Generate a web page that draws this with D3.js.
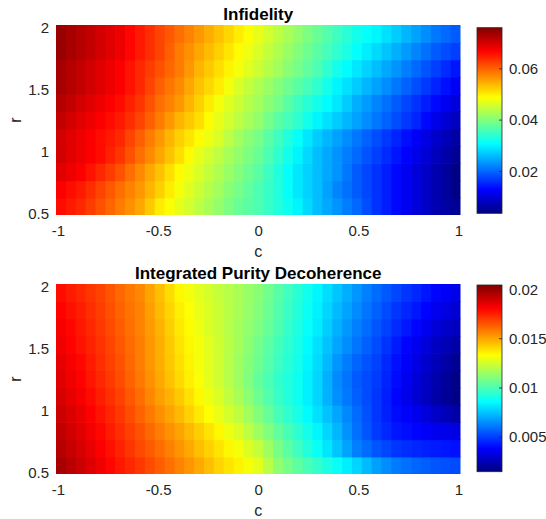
<!DOCTYPE html>
<html>
<head>
<meta charset="utf-8">
<script src="https://cdn.jsdelivr.net/npm/d3@7"></script>
<style>
  html, body { margin: 0; padding: 0; background: #ffffff; }
  svg { display: block; font-family: "Liberation Sans", Arial, Helvetica, sans-serif; }
</style>
</head>
<body>
<svg id="chart" width="546" height="519"></svg>
<script>
// Grid coordinates
const cValues = [-1, -0.95, -0.9, -0.85, -0.8, -0.75, -0.7, -0.65, -0.6, -0.55, -0.5, -0.45, -0.4, -0.35, -0.3, -0.25, -0.2, -0.15, -0.1, -0.05, 0,
                 0.05, 0.1, 0.15, 0.2, 0.25, 0.3, 0.35, 0.4, 0.45, 0.5, 0.55, 0.6, 0.65, 0.7, 0.75, 0.8, 0.85, 0.9, 0.95, 1];
const rValues = [0.5, 0.65, 0.8, 0.95, 1.1, 1.25, 1.4, 1.55, 1.7, 1.85, 2.0];

// Infidelity, one row per r value (r ascending), one entry per c value
const infidelity = [
  [66e-3,65e-3,64e-3,62.5e-3,61e-3,59.5e-3,58e-3,56.5e-3,55e-3,52.5e-3,50e-3,48.5e-3,47e-3,45.5e-3,44e-3,42.5e-3,41e-3,39.5e-3,38e-3,37e-3,36e-3,34.5e-3,33e-3,31.5e-3,30e-3,28e-3,26e-3,24.5e-3,23e-3,21.5e-3,20e-3,18e-3,16e-3,14.5e-3,13e-3,11.5e-3,10e-3,8.5e-3,7e-3,6e-3,5e-3],
  [67e-3,66e-3,65e-3,63.5e-3,62e-3,60.5e-3,59e-3,57.5e-3,56e-3,54e-3,52e-3,50e-3,48e-3,46.5e-3,45e-3,43.5e-3,42e-3,40.5e-3,39e-3,37.5e-3,36e-3,34.5e-3,33e-3,31e-3,29e-3,27.5e-3,26e-3,24e-3,22e-3,20.5e-3,19e-3,17.5e-3,16e-3,14.5e-3,13e-3,11.5e-3,10e-3,8.5e-3,7e-3,5.5e-3,4e-3],
  [69e-3,68e-3,67e-3,65.5e-3,64e-3,62.5e-3,61e-3,59e-3,57e-3,55e-3,53e-3,51e-3,49e-3,47.5e-3,46e-3,44.5e-3,43e-3,41.5e-3,40e-3,38.5e-3,37e-3,35e-3,33e-3,31e-3,29e-3,27.5e-3,26e-3,24.5e-3,23e-3,21e-3,19e-3,17.5e-3,16e-3,14.5e-3,13e-3,11.5e-3,10e-3,8.5e-3,7e-3,5.5e-3,4e-3],
  [70e-3,69e-3,68e-3,67e-3,66e-3,64.5e-3,63e-3,61e-3,59e-3,57e-3,55e-3,53e-3,51e-3,49e-3,47e-3,45.5e-3,44e-3,42.5e-3,41e-3,39.5e-3,38e-3,36e-3,34e-3,32e-3,30e-3,28e-3,26e-3,24.5e-3,23e-3,21.5e-3,20e-3,18.5e-3,17e-3,15.5e-3,14e-3,12.5e-3,11e-3,9.5e-3,8e-3,6.5e-3,5e-3],
  [70e-3,69e-3,68e-3,67e-3,66e-3,65e-3,64e-3,62e-3,60e-3,58e-3,56e-3,54e-3,52e-3,50.5e-3,49e-3,47.5e-3,46e-3,44e-3,42e-3,40.5e-3,39e-3,37e-3,35e-3,33e-3,31e-3,29e-3,27e-3,25.5e-3,24e-3,22.5e-3,21e-3,19.5e-3,18e-3,16.5e-3,15e-3,13.5e-3,12e-3,10.5e-3,9e-3,7.5e-3,6e-3],
  [71e-3,70e-3,69e-3,68e-3,67e-3,66e-3,65e-3,63.5e-3,62e-3,60e-3,58e-3,56e-3,54e-3,52.5e-3,51e-3,49e-3,47e-3,45.5e-3,44e-3,42.5e-3,41e-3,39e-3,37e-3,35.5e-3,34e-3,32e-3,30e-3,28.5e-3,27e-3,25.5e-3,24e-3,22.5e-3,21e-3,19.5e-3,18e-3,16.5e-3,15e-3,13e-3,11e-3,9.5e-3,8e-3],
  [72e-3,71e-3,70e-3,69e-3,68e-3,67e-3,66e-3,64.5e-3,63e-3,61e-3,59e-3,57.5e-3,56e-3,54e-3,52e-3,50e-3,48e-3,46.5e-3,45e-3,43.5e-3,42e-3,40.5e-3,39e-3,37e-3,35e-3,33.5e-3,32e-3,30.5e-3,29e-3,27e-3,25e-3,23.5e-3,22e-3,20.5e-3,19e-3,17.5e-3,16e-3,14.5e-3,13e-3,11.5e-3,10e-3],
  [73e-3,72e-3,71e-3,70e-3,69e-3,68e-3,67e-3,65.5e-3,64e-3,62e-3,60e-3,58.5e-3,57e-3,55e-3,53e-3,51.5e-3,50e-3,48e-3,46e-3,44.5e-3,43e-3,41.5e-3,40e-3,38.5e-3,37e-3,35.5e-3,34e-3,32e-3,30e-3,28.5e-3,27e-3,25.5e-3,24e-3,22.5e-3,21e-3,19.5e-3,18e-3,16.5e-3,15e-3,13.5e-3,12e-3],
  [73e-3,72e-3,71e-3,70e-3,69e-3,68e-3,67e-3,65.5e-3,64e-3,62.5e-3,61e-3,59.5e-3,58e-3,56e-3,54e-3,52.5e-3,51e-3,49.5e-3,48e-3,46.5e-3,45e-3,43.5e-3,42e-3,40.5e-3,39e-3,37.5e-3,36e-3,34e-3,32e-3,30.5e-3,29e-3,27.5e-3,26e-3,24.5e-3,23e-3,21.5e-3,20e-3,18.5e-3,17e-3,15.5e-3,14e-3],
  [74e-3,73e-3,72e-3,71e-3,70e-3,69e-3,68e-3,66.5e-3,65e-3,63.5e-3,62e-3,60e-3,58e-3,56.5e-3,55e-3,53.5e-3,52e-3,50.5e-3,49e-3,47.5e-3,46e-3,44.5e-3,43e-3,41.5e-3,40e-3,38.5e-3,37e-3,35.5e-3,34e-3,32.5e-3,31e-3,29.5e-3,28e-3,26.5e-3,25e-3,23.5e-3,22e-3,20.5e-3,19e-3,18e-3,17e-3],
  [74e-3,73e-3,72e-3,71e-3,70e-3,69e-3,68e-3,66.5e-3,65e-3,63.5e-3,62e-3,60.5e-3,59e-3,57.5e-3,56e-3,54.5e-3,53e-3,51.5e-3,50e-3,48.5e-3,47e-3,45.5e-3,44e-3,42.5e-3,41e-3,39.5e-3,38e-3,36.5e-3,35e-3,33.5e-3,32e-3,31e-3,30e-3,28.5e-3,27e-3,25.5e-3,24e-3,22.5e-3,21e-3,20e-3,19e-3]
];

// Integrated purity decoherence, same layout
const purityDecoherence = [
  [197e-4,193.5e-4,190e-4,186.5e-4,183e-4,179.5e-4,176e-4,173e-4,170e-4,166.5e-4,163e-4,159.5e-4,156e-4,152.5e-4,149e-4,145e-4,141e-4,138e-4,135e-4,131.5e-4,128e-4,120e-4,112e-4,107.5e-4,103e-4,99e-4,95e-4,91e-4,87e-4,82.5e-4,78e-4,73e-4,68e-4,64.5e-4,61e-4,59e-4,57e-4,55.5e-4,54e-4,53e-4,52e-4],
  [194e-4,191e-4,188e-4,184.5e-4,181e-4,177.5e-4,174e-4,170.5e-4,167e-4,163.5e-4,160e-4,156.5e-4,153e-4,149e-4,145e-4,141.5e-4,138e-4,134.5e-4,131e-4,126.5e-4,122e-4,115e-4,108e-4,102.5e-4,97e-4,92e-4,87e-4,81e-4,75e-4,68.5e-4,62e-4,58e-4,54e-4,51e-4,48e-4,46.5e-4,45e-4,44e-4,43e-4,42e-4,41e-4],
  [192e-4,189e-4,186e-4,182.5e-4,179e-4,175.5e-4,172e-4,168.5e-4,165e-4,161e-4,157e-4,153.5e-4,150e-4,146e-4,142e-4,138e-4,134e-4,130e-4,126e-4,120.5e-4,115e-4,109.5e-4,104e-4,99e-4,94e-4,89e-4,84e-4,78e-4,72e-4,65.5e-4,59e-4,54e-4,49e-4,45.5e-4,42e-4,40.5e-4,39e-4,37e-4,35e-4,34e-4,33e-4],
  [190e-4,187e-4,184e-4,180.5e-4,177e-4,173.5e-4,170e-4,166e-4,162e-4,158e-4,154e-4,150e-4,146e-4,141.5e-4,137e-4,133e-4,129e-4,125e-4,121e-4,115.5e-4,110e-4,104.5e-4,99e-4,94.5e-4,90e-4,85e-4,80e-4,74.5e-4,69e-4,63.5e-4,58e-4,53e-4,48e-4,44e-4,40e-4,37.5e-4,35e-4,31.5e-4,28e-4,25e-4,22e-4],
  [188e-4,185e-4,182e-4,178.5e-4,175e-4,171.5e-4,168e-4,164e-4,160e-4,155.5e-4,151e-4,147e-4,143e-4,138.5e-4,134e-4,130e-4,126e-4,121.5e-4,117e-4,111.5e-4,106e-4,101e-4,96e-4,92e-4,88e-4,83e-4,78e-4,71.5e-4,65e-4,60.5e-4,56e-4,52e-4,48e-4,43.5e-4,39e-4,34.5e-4,30e-4,26e-4,22e-4,19e-4,16e-4],
  [186e-4,183e-4,180e-4,176.5e-4,173e-4,169.5e-4,166e-4,162e-4,158e-4,153.5e-4,149e-4,144.5e-4,140e-4,136e-4,132e-4,128e-4,124e-4,119.5e-4,115e-4,109.5e-4,104e-4,99.5e-4,95e-4,91.5e-4,88e-4,83e-4,78e-4,71e-4,64e-4,59.5e-4,55e-4,52e-4,49e-4,44.5e-4,40e-4,35.5e-4,31e-4,27e-4,23e-4,19.5e-4,16e-4],
  [185e-4,182e-4,179e-4,175.5e-4,172e-4,168.5e-4,165e-4,161e-4,157e-4,152.5e-4,148e-4,143.5e-4,139e-4,135e-4,131e-4,127.5e-4,124e-4,119.5e-4,115e-4,110.5e-4,106e-4,101.5e-4,97e-4,93e-4,89e-4,84e-4,79e-4,72.5e-4,66e-4,61.5e-4,57e-4,53.5e-4,50e-4,45.5e-4,41e-4,37e-4,33e-4,29e-4,25e-4,21.5e-4,18e-4],
  [183e-4,180e-4,177e-4,174e-4,171e-4,167.5e-4,164e-4,160.5e-4,157e-4,152.5e-4,148e-4,143e-4,138e-4,134.5e-4,131e-4,127.5e-4,124e-4,120e-4,116e-4,111.5e-4,107e-4,102.5e-4,98e-4,94e-4,90e-4,85e-4,80e-4,74.5e-4,69e-4,64.5e-4,60e-4,56e-4,52e-4,47.5e-4,43e-4,39e-4,35e-4,31e-4,27e-4,24.5e-4,22e-4],
  [182e-4,179e-4,176e-4,173e-4,170e-4,166.5e-4,163e-4,159.5e-4,156e-4,151.5e-4,147e-4,142e-4,137e-4,133.5e-4,130e-4,126.5e-4,123e-4,119.5e-4,116e-4,112.5e-4,109e-4,104.5e-4,100e-4,95.5e-4,91e-4,86.5e-4,82e-4,76.5e-4,71e-4,66.5e-4,62e-4,58e-4,54e-4,50e-4,46e-4,42.5e-4,39e-4,35e-4,31e-4,28.5e-4,26e-4],
  [180e-4,177.5e-4,175e-4,172e-4,169e-4,165.5e-4,162e-4,159e-4,156e-4,151e-4,146e-4,141e-4,136e-4,132.5e-4,129e-4,126e-4,123e-4,120e-4,117e-4,113.5e-4,110e-4,105.5e-4,101e-4,96.5e-4,92e-4,87.5e-4,83e-4,78e-4,73e-4,68.5e-4,64e-4,60e-4,56e-4,52e-4,48e-4,45e-4,42e-4,38.5e-4,35e-4,32.5e-4,30e-4],
  [178e-4,175.5e-4,173e-4,170.5e-4,168e-4,164.5e-4,161e-4,158e-4,155e-4,150e-4,145e-4,139.5e-4,134e-4,131e-4,128e-4,125e-4,122e-4,119.5e-4,117e-4,114e-4,111e-4,106.5e-4,102e-4,97.5e-4,93e-4,88.5e-4,84e-4,79.5e-4,75e-4,70.5e-4,66e-4,62e-4,58e-4,54.5e-4,51e-4,48e-4,45e-4,42e-4,39e-4,36.5e-4,34e-4]
];

// Colour limits of each panel
const infidelityLimits = [0.0035, 0.0758];
const purityLimits = [0.00145, 0.0204];

// Tick values and labels
const cTicks = [-1, -0.5, 0, 0.5, 1];
const cTickLabels = ["-1", "-0.5", "0", "0.5", "1"];
const rTicks = [0.5, 1, 1.5, 2];
const rTickLabels = ["0.5", "1", "1.5", "2"];
const infidelityTicks = [0.02, 0.04, 0.06];
const infidelityTickLabels = ["0.02", "0.04", "0.06"];
const purityTicks = [0.005, 0.01, 0.015, 0.02];
const purityTickLabels = ["0.005", "0.01", "0.015", "0.02"];

// Jet colour map
const jetStops = [0, 0.125, 0.375, 0.625, 0.875, 1];
const jetColors = ["#000080", "#0000ff", "#00ffff", "#ffff00", "#ff0000", "#800000"];

const svg = d3.select("#chart");
const defs = svg.append("defs");
const textColor = "#262626";
const fontFamily = '"Liberation Sans", Arial, Helvetica, sans-serif';

function drawPanel(p) {
  const g = svg.append("g");
  const [lo, hi] = p.limits;
  const color = d3.scaleLinear()
    .domain(jetStops.map(t => lo + t * (hi - lo)))
    .range(jetColors)
    .clamp(true);

  // Heat map cells
  const xBand = d3.scaleBand().domain(cValues).range([p.left, p.right]);
  const yBand = d3.scaleBand().domain(rValues).range([p.bottom, p.top]);
  const clipId = "clip-" + p.id;
  defs.append("clipPath").attr("id", clipId)
    .append("rect")
    .attr("x", p.left).attr("y", p.top)
    .attr("width", p.right - p.left).attr("height", p.bottom - p.top);

  const cells = [];
  p.grid.forEach((row, i) => row.forEach((v, j) => cells.push({ c: cValues[j], r: rValues[i], v })));
  g.append("g")
    .attr("clip-path", `url(#${clipId})`)
    .selectAll("rect")
    .data(cells)
    .join("rect")
    .attr("x", d => xBand(d.c))
    .attr("y", d => yBand(d.r))
    .attr("width", xBand.bandwidth() + 0.7)
    .attr("height", yBand.bandwidth() + 0.7)
    .attr("fill", d => color(d.v));

  // Axes (tick positions at first/last cell centres)
  const x = d3.scaleLinear().domain([-1, 1]).range([p.left + 2, p.right - 2]);
  const y = d3.scaleLinear().domain([0.5, 2]).range([p.bottom - 2, p.top + 2]);

  const gx = g.append("g")
    .attr("transform", `translate(0,${p.bottom})`)
    .call(d3.axisBottom(x).tickValues(cTicks)
      .tickFormat((d, i) => cTickLabels[i]).tickSize(0));
  gx.select(".domain").remove();
  gx.attr("font-size", null).attr("font-family", null);
  gx.selectAll("text")
    .attr("y", 21).attr("dy", null)
    .attr("fill", textColor)
    .style("font-size", "15px").style("font-family", fontFamily);

  const gy = g.append("g")
    .attr("transform", `translate(${p.left},0)`)
    .call(d3.axisLeft(y).tickValues(rTicks)
      .tickFormat((d, i) => rTickLabels[i]).tickSize(0));
  gy.select(".domain").remove();
  gy.attr("font-size", null).attr("font-family", null);
  gy.selectAll("text")
    .attr("x", -7).attr("dy", "0.35em")
    .attr("fill", textColor)
    .style("font-size", "15px").style("font-family", fontFamily);

  // Axis labels and title
  const midX = (p.left + p.right) / 2;
  g.append("text")
    .attr("x", midX).attr("y", p.bottom + 42)
    .attr("text-anchor", "middle")
    .attr("fill", textColor)
    .style("font-size", "16px")
    .text("c");
  g.append("text")
    .attr("transform", `translate(21,${(p.top + p.bottom) / 2}) rotate(-90)`)
    .attr("text-anchor", "middle")
    .attr("fill", textColor)
    .style("font-size", "16px")
    .text("r");
  g.append("text")
    .attr("x", midX).attr("y", p.titleY)
    .attr("text-anchor", "middle")
    .attr("fill", "#000")
    .style("font-size", "17px").style("font-weight", "bold")
    .text(p.title);

  // Colour bar
  const gradId = "grad-" + p.id;
  const grad = defs.append("linearGradient").attr("id", gradId)
    .attr("x1", 0).attr("y1", 1).attr("x2", 0).attr("y2", 0);
  grad.selectAll("stop").data(jetStops).join("stop")
    .attr("offset", d => d)
    .attr("stop-color", (d, i) => jetColors[i]);

  const cb = p.colorbar;
  const cbScale = d3.scaleLinear().domain(p.limits).range([cb.bottom, cb.top]);
  g.append("rect")
    .attr("x", cb.left).attr("y", cb.top)
    .attr("width", cb.right - cb.left).attr("height", cb.bottom - cb.top)
    .attr("fill", `url(#${gradId})`)
    .attr("stroke", textColor).attr("stroke-width", 0.8);

  const gcb = g.append("g")
    .attr("transform", `translate(${cb.right},0)`)
    .call(d3.axisRight(cbScale).tickValues(p.ticks)
      .tickFormat((d, i) => p.tickLabels[i])
      .tickSizeInner(-3).tickSizeOuter(0).tickPadding(10));
  gcb.select(".domain").remove();
  gcb.attr("font-size", null).attr("font-family", null);
  gcb.selectAll("line").attr("stroke", textColor).attr("stroke-width", 0.8);
  gcb.selectAll("text")
    .attr("x", 7).attr("dy", "0.35em")
    .attr("fill", textColor)
    .style("font-size", "15px").style("font-family", fontFamily);
}

drawPanel({
  id: "infidelity",
  title: "Infidelity",
  grid: infidelity,
  limits: infidelityLimits,
  ticks: infidelityTicks,
  tickLabels: infidelityTickLabels,
  left: 56, right: 460.5, top: 25, bottom: 215,
  titleY: 20,
  colorbar: { left: 477, right: 502, top: 27.7, bottom: 213.3 }
});

drawPanel({
  id: "purity",
  title: "Integrated Purity Decoherence",
  grid: purityDecoherence,
  limits: purityLimits,
  ticks: purityTicks,
  tickLabels: purityTickLabels,
  left: 56, right: 460.5, top: 284, bottom: 474,
  titleY: 279,
  colorbar: { left: 477, right: 502, top: 285, bottom: 471.7 }
});
</script>
</body>
</html>
